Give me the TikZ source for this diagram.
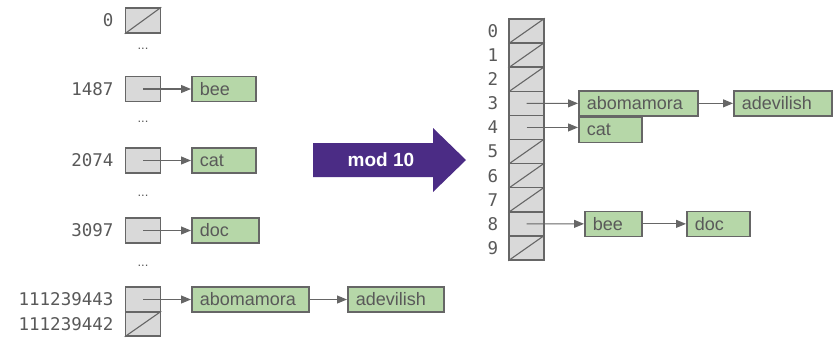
\documentclass[tikz,border=0pt]{standalone}
\usepackage{fontspec}
\setmainfont{Liberation Sans}
\setmonofont{DejaVu Sans Mono}
\usetikzlibrary{arrows.meta}

\definecolor{cellgray}{HTML}{D9D9D9}
\definecolor{edgegray}{HTML}{666666}
\definecolor{inkgray}{HTML}{595959}
\definecolor{leafgreen}{HTML}{B6D7A8}
\definecolor{modpurple}{HTML}{4B2C85}

\tikzset{
  cell/.style={draw=edgegray, fill=cellgray, line width=1.5pt, minimum width=35pt, minimum height=#1, inner sep=0pt},
  cell/.default=25pt,
  leaf/.style={draw=edgegray, fill=leafgreen, line width=1.5pt, anchor=west, minimum height=25pt, inner xsep=8pt, inner ysep=0pt, text width=#1, align=left, font=\fontsize{18}{20}\selectfont, text=inkgray},
  key/.style={font=\ttfamily\fontsize{17.5}{20}\selectfont, text=inkgray},
  dots/.style={font=\fontsize{13}{15}\selectfont, text=inkgray},
  link/.style={draw=edgegray, line width=1.1pt, -{Triangle[length=10pt,width=8pt]}},
  nil/.style={draw=edgegray, line width=1.1pt}
}

\begin{document}
\begin{tikzpicture}[x=1pt, y=-1pt]
  \useasboundingbox (0,0) rectangle (838,338);

  % raw hash codes
  \node[cell] (c0) at (143, 20.5) {};
  \node[cell] (c1487) at (143, 89) {};
  \node[cell] (c2074) at (143, 160.5) {};
  \node[cell] (c3097) at (143, 230.5) {};
  \node[cell] (c443) at (143, 299.5) {};
  \node[cell=24pt] (c442) at (143, 324) {};
  \draw[nil] (c0.south west) -- (c0.north east);
  \draw[nil] (c442.south west) -- (c442.north east);

  \node[key, anchor=east] (k0) at (117, 20.5) {0};
  \node[key, anchor=east] (k1487) at (117, 89) {1487};
  \node[key, anchor=east] (k2074) at (117, 160.5) {2074};
  \node[key, anchor=east] (k3097) at (117, 230.5) {3097};
  \node[key, anchor=east] (k443) at (117, 299.5) {111239443};
  \node[key, anchor=east] (k442) at (117, 324) {111239442};

  \node[dots] (d1) at (143, 49) {...};
  \node[dots] (d2) at (143, 122) {...};
  \node[dots] (d3) at (143, 196) {...};
  \node[dots] (d4) at (143, 266) {...};

  \node[leaf=48pt] (bee) at (191, 89) {bee};
  \node[leaf=48pt] (cat) at (191, 160.5) {cat};
  \node[leaf=51pt] (doc) at (191, 230.5) {doc};
  \node[leaf=101pt] (abo) at (191, 299.5) {abomamora};
  \node[leaf=80pt] (adev) at (347, 299.5) {adevilish};

  \draw[link] (c1487.center) -- (bee.west);
  \draw[link] (c2074.center) -- (cat.west);
  \draw[link] (c3097.center) -- (doc.west);
  \draw[link] (c443.center) -- (abo.west);
  \draw[link] (abo.east) -- (adev.west);

  % the mod step
  \fill[modpurple] (313,143) -- (433,143) -- (433,128) -- (466,160) -- (433,192)
    -- (433,177) -- (313,177) -- cycle;
  \node[text=white, font=\bfseries\fontsize{19}{22}\selectfont] (mod) at (381,160) {mod 10};

  % table of 10 buckets
  \foreach \i in {0,...,9} {
    \node[cell=24.1pt] (r\i) at (526.5, 31.05+24.1*\i) {};
    \node[key] (n\i) at (493, 31.05+24.1*\i) {\i};
  }
  \foreach \i in {0,1,2,5,6,7,9}
    \draw[nil] (r\i.south west) -- (r\i.north east);

  \node[leaf=103pt] (rabo) at (578, 103.35) {abomamora};
  \node[leaf=82pt] (radev) at (733, 103.35) {adevilish};
  \node[leaf=47pt] (rcat) at (578, 130) {cat};
  \node[leaf=41pt] (rbee) at (584, 223.85) {bee};
  \node[leaf=47pt] (rdoc) at (686, 223.85) {doc};

  \draw[link] (r3.center) -- (rabo.west);
  \draw[link] (rabo.east) -- (radev.west);
  \draw[link] (r4.center) -- (r4.center -| rcat.west);
  \draw[link] (r8.center) -- (rbee.west);
  \draw[link] (rbee.east) -- (rdoc.west);
\end{tikzpicture}
\end{document}
